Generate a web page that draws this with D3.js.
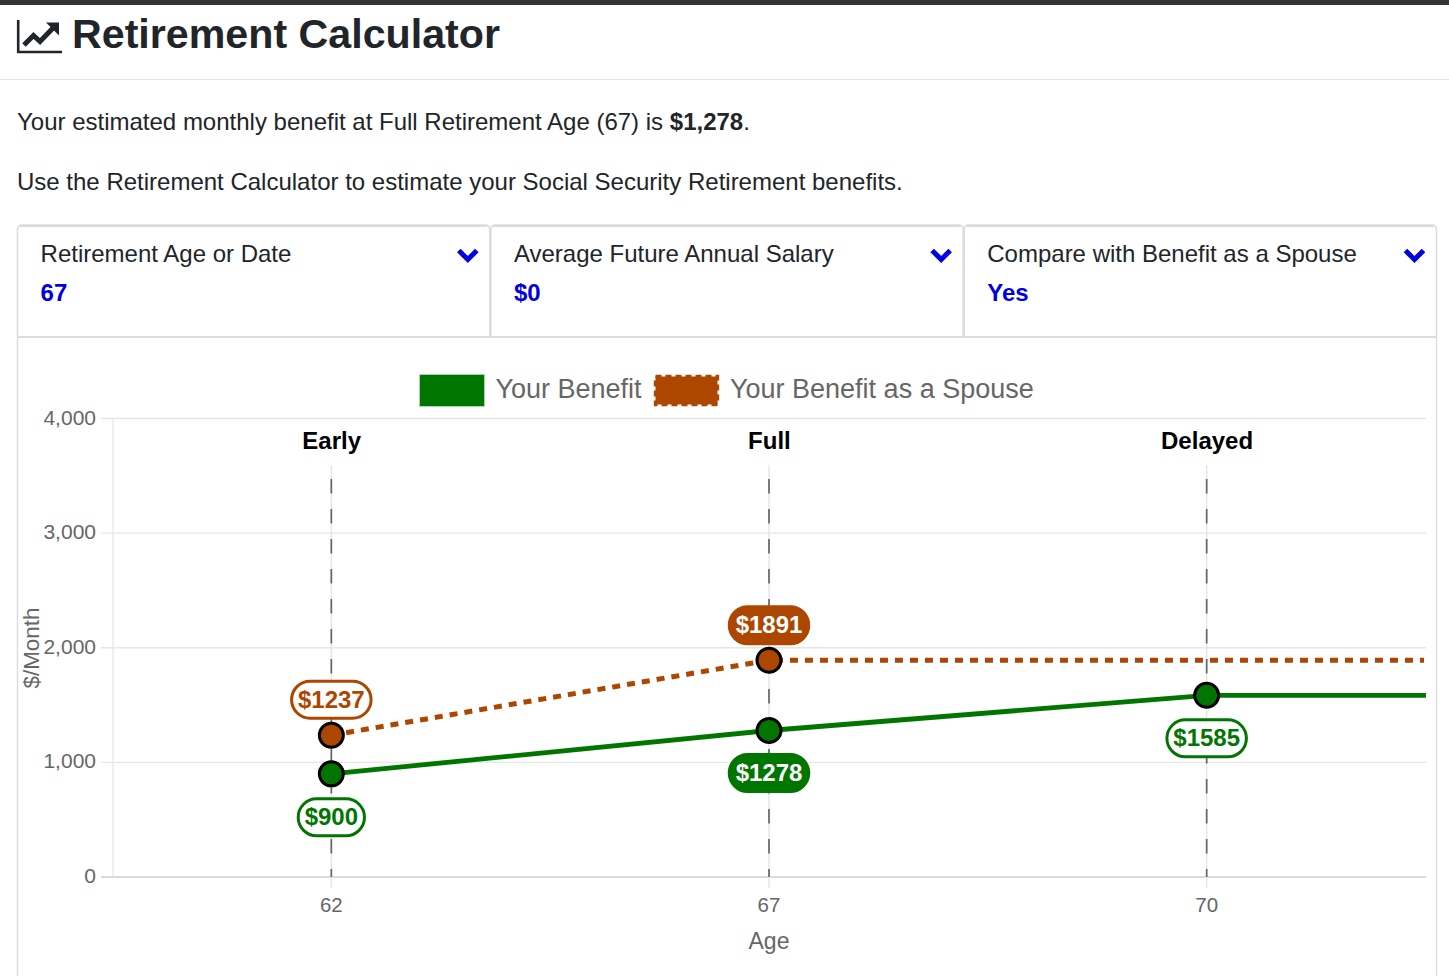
<!DOCTYPE html>
<html><head><meta charset="utf-8">
<script src="https://cdn.jsdelivr.net/npm/d3@7"></script>
<style>
html,body{margin:0;padding:0;background:#fff;overflow:hidden}
svg{display:block;font-family:"Liberation Sans",Arial,sans-serif}
</style></head><body><svg id="c" width="1449" height="976"></svg>
<script>
const ages = ["62","67","70"];
const claimTypes = ["Early","Full","Delayed"];
const benefit = [900,1278,1585];
const spouse = [1237,1891];
const yTicks = [0,1000,2000,3000,4000];
const legendLabels = ["Your Benefit","Your Benefit as a Spouse"];
const panelTitles = ["Retirement Age or Date","Average Future Annual Salary","Compare with Benefit as a Spouse"];
const panelValues = ["67","$0","Yes"];
const GREEN="#007600", RUST="#AD4700", INK="#212529", GREY="#666", GRID="#e6e6e6", BORDER="#dcdcdc";

const svg=d3.select("#c");
const x=d3.scaleBand().domain(ages).range([112.5,1425.5]);
const cx=a=>x(a)+x.bandwidth()/2;
const y=d3.scaleLinear().domain([0,4000]).range([877,418.5]);

// page header
svg.append("rect").attr("width",1449).attr("height",5).attr("fill","#343434");
svg.append("line").attr("x1",0).attr("x2",1449).attr("y1",79.5).attr("y2",79.5).attr("stroke","#e2e2e2");
svg.append("path").attr("fill","none").attr("stroke",INK).attr("stroke-width",2.6).attr("d","M18.2 20V52H62");
svg.append("path").attr("fill","none").attr("stroke",INK).attr("stroke-width",5).attr("d","M24 45L33.5 35.5L40 41.5L54 27");
svg.append("path").attr("fill",INK).attr("d","M46 22.5H59V35.5Z");
svg.append("text").attr("x",72).attr("y",48).attr("font-size",41.2).attr("font-weight",700).attr("fill",INK).text("Retirement Calculator");

const p1=svg.append("text").attr("x",17).attr("y",130).attr("font-size",24).attr("fill",INK);
p1.append("tspan").text("Your estimated monthly benefit at Full Retirement Age (67) is ");
p1.append("tspan").attr("font-weight",700).text("$1,278");
p1.append("tspan").text(".");
svg.append("text").attr("x",17).attr("y",190).attr("font-size",24).attr("fill",INK)
  .text("Use the Retirement Calculator to estimate your Social Security Retirement benefits.");

// accordion panels
const panelX=d3.scaleBand().domain(panelTitles).range([17,1437]);
const panels=svg.selectAll("g.panel").data(panelTitles).join("g").attr("class","panel")
  .attr("transform",d=>`translate(${panelX(d)},0)`);
const pw=panelX.bandwidth();
panels.append("path").attr("fill","none").attr("stroke",BORDER).attr("stroke-width",1.6)
  .attr("d",`M0.5 336V230Q0.5 225 5.5 225H${pw-5.5}Q${pw-0.5} 225 ${pw-0.5} 230V336`);
panels.append("path").attr("fill","none").attr("stroke",BORDER).attr("stroke-width",2).attr("d",`M3 226H${pw-3}`);
panels.append("text").attr("x",23.6).attr("y",262).attr("font-size",24).attr("fill",INK).text(d=>d);
panels.append("text").attr("x",23.6).attr("y",301).attr("font-size",24).attr("font-weight",700).attr("fill","#0000e0")
  .text((d,i)=>panelValues[i]);
panels.append("path").attr("fill","none").attr("stroke","#0000e0").attr("stroke-width",5)
  .attr("d",`M${pw-31.5} 250.5L${pw-22.5} 259.5L${pw-13.5} 250.5`);
svg.append("path").attr("fill","none").attr("stroke",BORDER).attr("stroke-width",2).attr("d","M17 337H1437");
svg.append("path").attr("fill","none").attr("stroke",BORDER).attr("stroke-width",1.4).attr("d","M17.5 337V976M1436.5 337V976");

// legend
const lg=svg.append("g");
lg.append("rect").attr("x",419.5).attr("y",374.5).attr("width",65).attr("height",32).attr("fill",GREEN).attr("stroke","#b5dab5").attr("stroke-width",.8);
lg.append("rect").attr("x",655.5).attr("y",376.5).attr("width",62).attr("height",28).attr("fill",RUST).attr("stroke",RUST).attr("stroke-width",3.4).attr("stroke-dasharray","6 4");
lg.append("text").attr("x",495.5).attr("y",398).attr("font-size",27).attr("fill",GREY).text(legendLabels[0]);
lg.append("text").attr("x",730).attr("y",398).attr("font-size",27).attr("fill",GREY).text(legendLabels[1]);

// grid + axes
svg.append("g").selectAll("line").data(yTicks).join("line")
  .attr("x1",101).attr("x2",1426).attr("y1",d=>y(d)).attr("y2",d=>y(d))
  .attr("stroke",d=>d===0?"#cfcfcf":GRID).attr("stroke-width",1.3);
svg.append("line").attr("x1",113).attr("x2",113).attr("y1",418.5).attr("y2",877).attr("stroke",GRID).attr("stroke-width",1.3);
svg.append("g").selectAll("text").data(yTicks).join("text")
  .attr("x",96).attr("y",d=>Math.round(y(d)+6)).attr("text-anchor","end").attr("font-size",21).attr("fill",GREY).text(d3.format(","));
svg.append("g").selectAll("line").data(ages).join("line")
  .attr("x1",cx).attr("x2",cx).attr("y1",465).attr("y2",888).attr("stroke",GRID).attr("stroke-width",1.5);
svg.append("g").selectAll("text").data(ages).join("text")
  .attr("x",cx).attr("y",912).attr("text-anchor","middle").attr("font-size",20.5).attr("fill",GREY).text(d=>d);
svg.append("text").attr("x",769).attr("y",949).attr("text-anchor","middle").attr("font-size",23).attr("fill",GREY).text("Age");
svg.append("text").attr("transform","translate(38.5,648) rotate(-90)").attr("text-anchor","middle").attr("font-size",22.4).attr("fill",GREY).text("$/Month");

// vertical dashed reference lines
svg.append("g").selectAll("line").data(ages).join("line")
  .attr("x1",cx).attr("x2",cx).attr("y1",479).attr("y2",877)
  .attr("stroke","#666").attr("stroke-width",1.7).attr("stroke-dasharray","14.5 15.5");
svg.append("g").selectAll("text").data(ages).join("text")
  .attr("x",d=>cx(d)+.4).attr("y",449).attr("text-anchor","middle").attr("font-size",24).attr("font-weight",700).attr("fill","#000")
  .text((d,i)=>claimTypes[i]);

// lines
const line=d3.line().x(d=>d[0]).y(d=>d[1]);
const pts=(s,end)=>s.map((v,i)=>[cx(ages[i]),y(v)]).concat([[end,y(s[s.length-1])]]);
svg.append("path").attr("d",line(pts(benefit,1426))).attr("fill","none").attr("stroke",GREEN).attr("stroke-width",4.8);
svg.append("path").attr("d",line(pts(spouse,1424))).attr("fill","none").attr("stroke",RUST).attr("stroke-width",5).attr("stroke-dasharray","8 7");

// points
[[spouse,RUST],[benefit,GREEN]].forEach(([s,c])=>{
  svg.append("g").selectAll("circle").data(s).join("circle")
    .attr("cx",(d,i)=>cx(ages[i])).attr("cy",d=>y(d)).attr("r",12).attr("fill",c).attr("stroke","#000").attr("stroke-width",3);
});

// value pills
function pill(a,v,c,filled,cyOff){
  const w=(String(v).length+1)*13.2+ 13.5, h=37, yc=y(v)+cyOff;
  const g=svg.append("g");
  g.append("rect").attr("x",cx(a)-w/2).attr("y",yc-h/2).attr("width",w).attr("height",h).attr("rx",18.5)
    .attr("fill",filled?c:"#fff").attr("stroke",c).attr("stroke-width",3);
  g.append("text").attr("x",cx(a)).attr("y",yc+8).attr("text-anchor","middle").attr("font-size",24).attr("font-weight",700)
    .attr("fill",filled?"#fff":c).text("$"+v);
}
pill("62",spouse[0],RUST,false,-35.5);
pill("67",spouse[1],RUST,true,-35);
pill("62",benefit[0],GREEN,false,43.5);
pill("67",benefit[1],GREEN,true,42.5);
pill("70",benefit[2],GREEN,false,43);
</script></body></html>
